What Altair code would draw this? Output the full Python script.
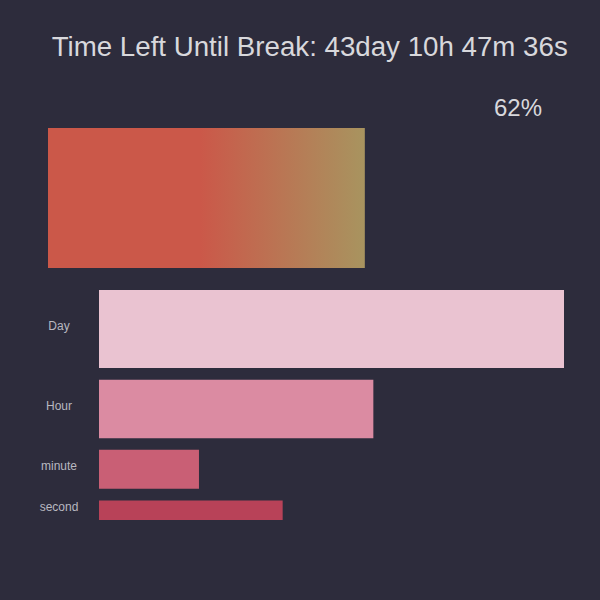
import altair as alt
import pandas as pd

# ---- data ----
title_text = "Time Left Until Break: 43day 10h 47m 36s"
progress = [0.62]
progress_label = "62%"
units = ["Day", "Hour", "minute", "second"]
remaining = [1.0, 0.59, 0.215, 0.395]
weights = [4, 3, 2, 1]
bar_colors = ["#eac3d1", "#db8ba2", "#c95f75", "#b84258"]

BG = "#2d2c3c"
TXT = "#d8d8dc"
FONT = "Liberation Sans"

top_df = pd.DataFrame({"p": progress})
bars_df = pd.DataFrame({"unit": units, "frac": remaining, "w": weights,
                        "order": list(range(len(units)))})

grad = alt.Gradient(
    gradient="linear",
    stops=[alt.GradientStop(color="#cb5849", offset=0),
           alt.GradientStop(color="#cb5849", offset=0.48),
           alt.GradientStop(color="#a8945f", offset=1)],
    x1=0, x2=1, y1=0, y2=0,
)

top = alt.Chart(top_df).mark_rect(fill=grad).encode(
    x=alt.X("p:Q", scale=alt.Scale(domain=[0, 1], range=[-51, 460]), axis=None),
    x2=alt.datum(0),
).properties(
    width=465, height=140,
    title=alt.TitleParams(progress_label, anchor="end", dx=-22, offset=7,
                          fontSize=24, color=TXT, font=FONT, fontWeight="normal"),
)

base = alt.Chart(bars_df).transform_window(
    cum="sum(w)", sort=[alt.SortField("order")], frame=[None, 0]
).transform_calculate(
    y_end="datum.cum + 0.6 * datum.order",
    y_start="datum.y_end - datum.w",
    y_mid="(datum.y_start + datum.y_end) / 2",
)

yscale = alt.Scale(reverse=True, nice=False, zero=True)

bars = base.mark_rect().encode(
    x=alt.X("frac:Q", scale=alt.Scale(domain=[0, 1]), axis=None),
    x2=alt.datum(0),
    y=alt.Y("y_start:Q", scale=yscale, axis=None),
    y2="y_end:Q",
    color=alt.Color("unit:N", scale=alt.Scale(domain=units, range=bar_colors), legend=None),
)

labels = base.mark_text(align="center", baseline="middle", dy=-3, fontSize=12,
                        color="#b8b8c0", font=FONT).encode(
    x=alt.value(-40),
    y=alt.Y("y_mid:Q", scale=yscale, axis=None),
    text="unit:N",
)

bottom = alt.layer(bars, labels).properties(width=465, height=230)

chart = alt.vconcat(top, bottom, spacing=22).properties(
    title=alt.TitleParams(title_text, fontSize=27.7, color=TXT, font=FONT,
                          fontWeight="normal", offset=35, anchor="start", dx=12),
    background=BG,
    padding={"left": 39, "right": 32, "top": 34, "bottom": 80},
).configure_view(stroke=None)

chart.save("out.html", embed_options={"renderer": "svg", "actions": False})
